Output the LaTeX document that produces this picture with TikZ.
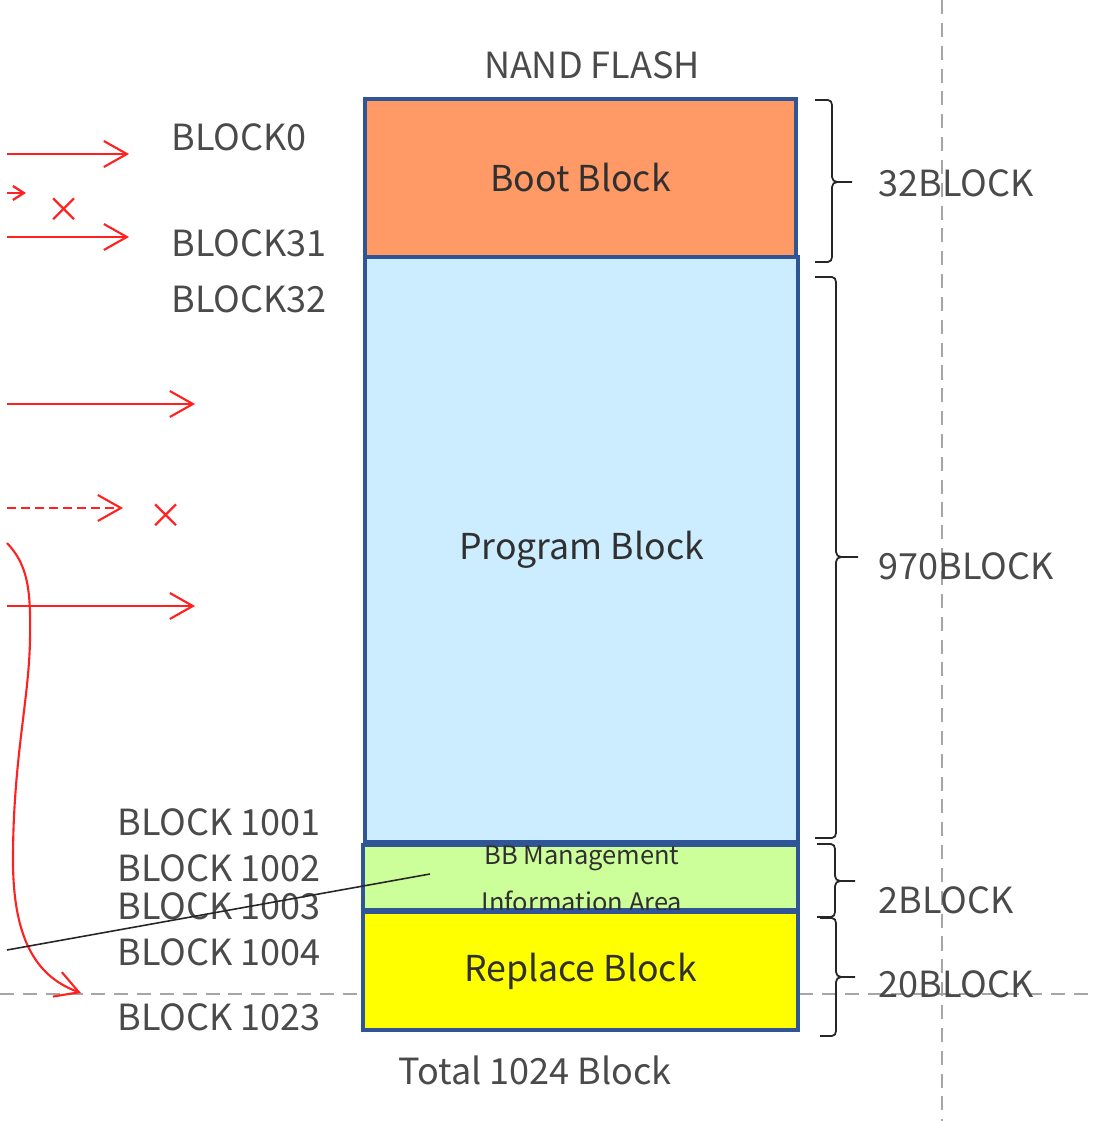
\documentclass[tikz,border=0pt]{standalone}
\usepackage{fontspec}
\setmainfont{Noto Sans CJK JP}
\usetikzlibrary{arrows.meta}
\definecolor{bootc}{HTML}{FF9966}
\definecolor{progc}{HTML}{CCECFF}
\definecolor{bbc}{HTML}{CCFF99}
\definecolor{repc}{HTML}{FFFF00}
\definecolor{edgec}{HTML}{2F5597}
\definecolor{labc}{HTML}{4A4A4A}
\definecolor{inc}{HTML}{303030}
\definecolor{dashc}{HTML}{A6A6A6}
\definecolor{redc}{HTML}{FF2020}
\newcommand{\rbrc}[6]{%
  \draw[bracest] (#4,#1) -- (#5-4,#1) to[out=0,in=90] (#5,#1+5) -- (#5,#2-5)
    to[out=-90,in=180] (#5+5,#2) -- (#6,#2)
    (#5+5,#2) to[out=180,in=90] (#5,#2+5) -- (#5,#3-5) to[out=-90,in=0] (#5-4,#3) -- (#4,#3);}
\tikzset{
  boxst/.style={draw=edgec, line width=1.8pt, inner sep=0pt, text=inc,
    font=\fontsize{20.3}{24}\selectfont},
  labst/.style={text=labc, inner sep=0pt, font=\fontsize{20.5}{24}\selectfont},
  bracest/.style={draw=black!85, line width=1pt},
  guide/.style={draw=dashc, line width=1pt, dash pattern=on 8pt off 5pt},
  redarr/.style={draw=redc, line width=1.2pt, -{Straight Barb[length=0.46cm,width=0.52cm,line width=1.2pt]}},
  smallarr/.style={draw=redc, line width=1.3pt, -{Straight Barb[length=0.22cm,width=0.28cm,line width=1.3pt]}},
  crossst/.style={text=redc, inner sep=0pt, font=\fontsize{20}{22}\selectfont},
}
\begin{document}
\begin{tikzpicture}[x=0.02cm,y=-0.02cm]
\useasboundingbox (0,0) rectangle (1095,1121);
% guide lines
\draw[guide] (942,0) -- (942,1121);
\draw[guide] (0,994) -- (1095,994);
% boxes
\node[boxst, fill=bootc, minimum width=8.62cm, minimum height=3.16cm] (boot) at (580.5,178) {Boot Block};
\node[boxst, fill=progc, minimum width=8.66cm, minimum height=11.7cm] (prog) at (581.5,549.5) {Program Block};
\node[boxst, fill=bbc, minimum width=8.7cm, minimum height=1.3cm] (bb) at (580.5,877.5) {};
\node[text=inc, inner sep=0pt, font=\fontsize{14.5}{26.7}\selectfont, align=center] (bbtext) at (582,879) {BB Management\\Information Area};
\node[boxst, fill=repc, minimum width=8.7cm, minimum height=2.36cm] (rep) at (580.5,971) {Replace Block};
% titles
\node[labst] (title) at (592,65) {NAND FLASH};
\node[labst] (total) at (535,1070) {Total 1024 Block};
% left labels
\node[labst, anchor=west] (b0) at (171,137) {BLOCK0};
\node[labst, anchor=west] (b31) at (171,243) {BLOCK31};
\node[labst, anchor=west] (b32) at (171,299) {BLOCK32};
\node[labst, anchor=west] (b1001) at (117,822) {BLOCK 1001};
\node[labst, anchor=west] (b1002) at (117,868) {BLOCK 1002};
\node[labst, anchor=west] (b1003) at (117,906) {BLOCK 1003};
\node[labst, anchor=west] (b1004) at (117,952) {BLOCK 1004};
\node[labst, anchor=west] (b1023) at (117,1017) {BLOCK 1023};
% braces
\rbrc{100}{182}{262}{815}{832}{852}
\rbrc{277}{557}{838}{815}{836}{858}
\rbrc{844}{881}{917}{817}{835}{855}
\rbrc{918}{977}{1036}{820}{836}{855}
\node[labst, anchor=west] (n32) at (878,183) {32BLOCK};
\node[labst, anchor=west] (n970) at (878,566) {970BLOCK};
\node[labst, anchor=west] (n2) at (878,900) {2BLOCK};
\node[labst, anchor=west] (n20) at (878,984) {20BLOCK};
% red arrows
\coordinate (a1s) at (7,154); \coordinate (a1e) at (129,154);
\coordinate (a2s) at (7,193); \coordinate (a2e) at (26,193);
\coordinate (a3s) at (7,237); \coordinate (a3e) at (129,237);
\coordinate (a4s) at (7,404); \coordinate (a4e) at (195,404);
\coordinate (a5s) at (7,508); \coordinate (a5e) at (123,508);
\coordinate (a6s) at (7,606); \coordinate (a6e) at (195,606);
\coordinate (cs) at (7,543); \coordinate (ce) at (81,993);
\draw[redarr] (a1s) -- (a1e);
\draw[smallarr] (a2s) -- (a2e);
\draw[redarr] (a3s) -- (a3e);
\draw[redarr] (a4s) -- (a4e);
\draw[redarr, dash pattern=on 5pt off 3pt] (a5s) -- (a5e);
\draw[redarr] (a6s) -- (a6e);
\draw[redarr] (cs) .. controls (28,565) and (31,590) .. (30,640)
  .. controls (29,700) and (13,760) .. (13,860)
  .. controls (13,945) and (40,978) .. (ce);
\node[crossst] (x1) at (64,210) {×};
\node[crossst] (x2) at (166,516) {×};
% black line
\coordinate (ls) at (7,950);
\coordinate (le) at (430,874);
\draw[black!85, line width=0.9pt] (ls) -- (le);
\end{tikzpicture}
\end{document}
